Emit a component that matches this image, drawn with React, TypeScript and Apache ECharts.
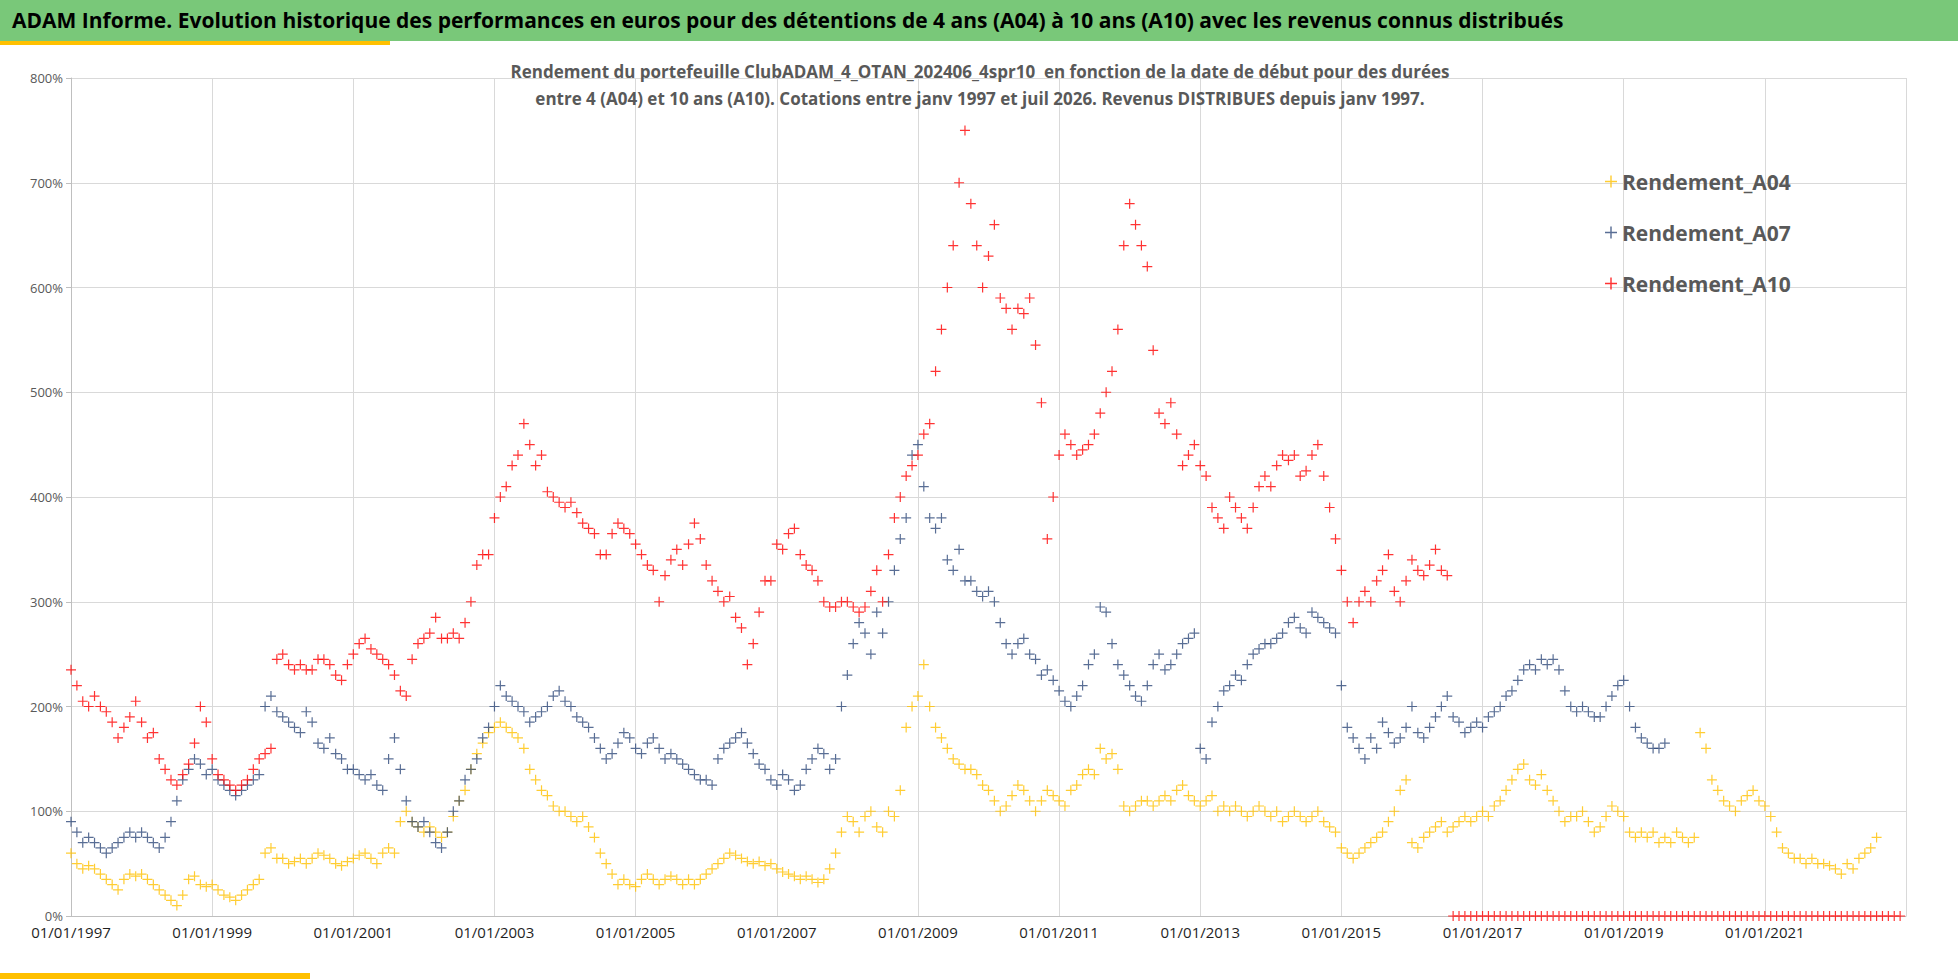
import React, { useEffect, useRef } from "react";
import * as echarts from "echarts";

const START_YEAR = 1997;
const X_MIN = 1997;
const X_MAX = 2023;
const Y_TICKS_PCT = [0, 100, 200, 300, 400, 500, 600, 700, 800];

// monthly values (%) starting Jan 1997
const A04 = [
  60, 50, 45, 48, 45, 40, 35, 30, 25, 35, 40, 38,
  40, 35, 30, 25, 20, 15, 10, 20, 35, 38, 30, 28,
  30, 25, 20, 18, 15, 20, 25, 30, 35, 60, 65, 55,
  55, 50, 52, 55, 50, 55, 60, 58, 55, 50, 48, 52,
  55, 58, 60, 55, 50, 60, 65, 60, 90, 100, 90, 85,
  80, 85, 80, 75, 80, 95, 110, 120, 140, 155, 165, 175,
  180, 185, 180, 175, 170, 160, 140, 130, 120, 115, 105, 100,
  100, 95, 90, 95, 85, 75, 60, 50, 40, 30, 35, 30,
  28, 35, 40, 35, 30, 35, 38, 35, 30, 35, 30, 35,
  40, 45, 50, 55, 60, 58, 55, 52, 50, 52, 48, 50,
  45, 42, 40, 38, 35, 38, 35, 32, 35, 45, 60, 80,
  95, 90, 80, 95, 100, 85, 80, 100, 95, 120, 180, 200,
  210, 240, 200, 180, 170, 160, 150, 145, 140, 140, 135, 125,
  120, 110, 100, 105, 115, 125, 120, 110, 100, 110, 120, 115,
  110, 105, 120, 125, 135, 140, 135, 160, 150, 155, 140, 105,
  100, 105, 110, 110, 105, 110, 115, 110, 120, 125, 115, 110,
  105, 110, 115, 100, 105, 100, 105, 100, 95, 100, 105, 100,
  95, 100, 90, 95, 100, 95, 90, 95, 100, 90, 85, 80,
  65, 60, 55, 60, 65, 70, 75, 80, 90, 100, 120, 130,
  70, 65, 75, 80, 85, 90, 80, 85, 90, 95, 90, 95,
  100, 95, 105, 110, 120, 130, 140, 145, 130, 125, 135, 120,
  110, 100, 90, 95, 95, 100, 90, 80, 85, 95, 105, 100,
  95, 80, 75, 80, 75, 80, 70, 75, 70, 80, 75, 70,
  75, 175, 160, 130, 120, 110, 105, 100, 110, 115, 120, 110,
  105, 95, 80, 65, 60, 55, 55, 50, 55, 50, 50, 48,
  45, 40, 50, 45, 55, 60, 65, 75,
];

const A07 = [
  90, 80, 70, 75, 70, 65, 60, 65, 70, 75, 80, 75,
  80, 75, 70, 65, 75, 90, 110, 130, 140, 150, 145, 135,
  140, 130, 125, 120, 115, 120, 125, 130, 135, 200, 210, 195,
  190, 185, 180, 175, 195, 185, 165, 160, 170, 155, 150, 140,
  140, 135, 130, 135, 125, 120, 150, 170, 140, 110, 90, 85,
  90, 80, 70, 65, 80, 100, 110, 130, 140, 150, 170, 180,
  200, 220, 210, 205, 200, 195, 185, 190, 195, 200, 210, 215,
  205, 200, 190, 185, 180, 170, 160, 150, 155, 165, 175, 170,
  160, 155, 165, 170, 160, 150, 155, 150, 145, 140, 135, 130,
  130, 125, 150, 160, 165, 170, 175, 165, 155, 145, 140, 130,
  125, 135, 130, 120, 125, 140, 150, 160, 155, 140, 150, 200,
  230, 260, 280, 270, 250, 290, 270, 300, 330, 360, 380, 440,
  450, 410, 380, 370, 380, 340, 330, 350, 320, 320, 310, 305,
  310, 300, 280, 260, 250, 260, 265, 250, 245, 230, 235, 225,
  215, 205, 200, 210, 220, 240, 250, 295, 290, 260, 240, 230,
  220, 210, 205, 220, 240, 250, 235, 240, 250, 260, 265, 270,
  160, 150, 185, 200, 215, 220, 230, 225, 240, 250, 255, 260,
  260, 265, 270, 280, 285, 275, 270, 290, 285, 280, 275, 270,
  220, 180, 170, 160, 150, 170, 160, 185, 175, 165, 170, 180,
  200, 175, 170, 180, 190, 200, 210, 190, 185, 175, 180, 185,
  180, 190, 195, 200, 210, 215, 225, 235, 240, 235, 245, 240,
  245, 235, 215, 200, 195, 200, 195, 190, 190, 200, 210, 220,
  225, 200, 180, 170, 165, 160, 160, 165,
];

const A10 = [
  235, 220, 205, 200, 210, 200, 195, 185, 170, 180, 190, 205,
  185, 170, 175, 150, 140, 130, 125, 135, 145, 165, 200, 185,
  150, 135, 130, 125, 120, 125, 130, 140, 150, 155, 160, 245,
  250, 240, 235, 240, 235, 235, 245, 245, 240, 230, 225, 240,
  250, 260, 265, 255, 250, 245, 240, 230, 215, 210, 245, 260,
  265, 270, 285, 265, 265, 270, 265, 280, 300, 335, 345, 345,
  380, 400, 410, 430, 440, 470, 450, 430, 440, 405, 400, 395,
  390, 395, 385, 375, 370, 365, 345, 345, 365, 375, 370, 365,
  355, 345, 335, 330, 300, 325, 340, 350, 335, 355, 375, 360,
  335, 320, 310, 300, 305, 285, 275, 240, 260, 290, 320, 320,
  355, 350, 365, 370, 345, 335, 330, 320, 300, 295, 295, 300,
  300, 295, 290, 295, 310, 330, 300, 345, 380, 400, 420, 430,
  440, 460, 470, 520, 560, 600, 640, 700, 750, 680, 640, 600,
  630, 660, 590, 580, 560, 580, 575, 590, 545, 490, 360, 400,
  440, 460, 450, 440, 445, 450, 460, 480, 500, 520, 560, 640,
  680, 660, 640, 620, 540, 480, 470, 490, 460, 430, 440, 450,
  430, 420, 390, 380, 370, 400, 390, 380, 370, 390, 410, 420,
  410, 430, 440, 435, 440, 420, 425, 440, 450, 420, 390, 360,
  330, 300, 280, 300, 310, 300, 320, 330, 345, 310, 300, 320,
  340, 330, 325, 335, 350, 330, 325,
  0, 0, 0, 0, 0,
  0, 0, 0, 0, 0, 0, 0, 0, 0, 0, 0, 0,
  0, 0, 0, 0, 0, 0, 0, 0, 0, 0, 0, 0,
  0, 0, 0, 0, 0, 0, 0, 0, 0, 0, 0, 0,
  0, 0, 0, 0, 0, 0, 0, 0, 0, 0, 0, 0,
  0, 0, 0, 0, 0, 0, 0, 0, 0, 0, 0, 0,
  0, 0, 0, 0, 0, 0, 0, 0, 0, 0, 0, 0,
];

const SERIES = [
  { name: "Rendement_A04", data: A04, color: "#FFC000" },
  { name: "Rendement_A07", data: A07, color: "#2F4A7A" },
  { name: "Rendement_A10", data: A10, color: "#FF0000" },
];

const PLUS = "path://M4.4,0H5.6V4.4H10V5.6H5.6V10H4.4V5.6H0V4.4H4.4Z";

export default function App() {
  const ref = useRef<HTMLDivElement>(null);
  useEffect(() => {
    const chart = echarts.init(ref.current!, null, { renderer: "svg" });
    chart.setOption({
      animation: false,
      backgroundColor: "#ffffff",
      title: [
        {
          text:
            "Rendement du portefeuille ClubADAM_4_OTAN_202406_4spr10  en fonction de la date de début pour des durées\nentre 4 (A04) et 10 ans (A10). Cotations entre janv 1997 et juil 2026. Revenus DISTRIBUES depuis janv 1997.",
          left: 975,
          top: 12,
          textAlign: "center",
          textStyle: {
            fontFamily: "Open Sans",
            fontWeight: "bold",
            fontSize: 17,
            color: "#595959",
            lineHeight: 27,
          },
        },
      ],
      legend: {
        orient: "vertical",
        left: 1600,
        top: 125,
        itemGap: 30,
        itemWidth: 12,
        itemHeight: 12,
        textStyle: { fontFamily: "Open Sans", fontSize: 21, fontWeight: "bold", color: "#595959" },
        data: SERIES.map((s) => ({ name: s.name, icon: PLUS })),
      },
      grid: { left: 71, right: 52, top: 37, bottom: 57 },
      xAxis: {
        type: "value",
        min: X_MIN,
        max: X_MAX,
        interval: 2,
        axisLine: { lineStyle: { color: "#BFBFBF" } },
        axisTick: { show: false },
        splitLine: { show: true, lineStyle: { color: "#D9D9D9" } },
        axisLabel: {
          formatter: (v: number) => `01/01/${v}`,
          showMaxLabel: false,
          color: "#1f1f1f",
          fontFamily: "Open Sans",
          fontSize: 15,
          margin: 8,
        },
      },
      yAxis: {
        type: "value",
        min: Y_TICKS_PCT[0],
        max: Y_TICKS_PCT[Y_TICKS_PCT.length - 1],
        interval: 100,
        axisLine: { show: true, lineStyle: { color: "#BFBFBF" } },
        splitLine: { lineStyle: { color: "#D9D9D9" } },
        axisLabel: { formatter: "{value}%", color: "#595959", fontFamily: "Open Sans", fontSize: 13 },
      },
      series: SERIES.map((s) => ({
        name: s.name,
        type: "scatter",
        symbol: PLUS,
        symbolSize: 10,
        itemStyle: { color: s.color },
        data: s.data.map((v, i) => [START_YEAR + i / 12, v]),
      })),
    });
    return () => chart.dispose();
  }, []);
  return (
    <div style={{ position: "absolute", left: 0, top: 0, width: 1958, height: 979, background: "#fff" }}>
      <div
        style={{
          position: "absolute",
          left: 0,
          top: 0,
          width: 1958,
          height: 41,
          background: "#79C879",
          fontFamily: "Open Sans",
          fontWeight: "bold",
          fontSize: 21,
          color: "#000",
          lineHeight: "41px",
          paddingLeft: 12,
          boxSizing: "border-box",
          whiteSpace: "nowrap",
        }}
      >
        ADAM Informe. Evolution historique des performances en euros pour des détentions de 4 ans (A04) à 10 ans (A10) avec les revenus connus distribués
      </div>
      <div ref={ref} style={{ position: "absolute", left: 0, top: 41, width: 1958, height: 932 }} />
      <div style={{ position: "absolute", left: 0, top: 41, width: 390, height: 4, background: "#FFC000", zIndex: 5 }} />
      <div style={{ position: "absolute", left: 0, top: 973, width: 310, height: 6, background: "#FFC000", zIndex: 5 }} />
    </div>
  );
}
